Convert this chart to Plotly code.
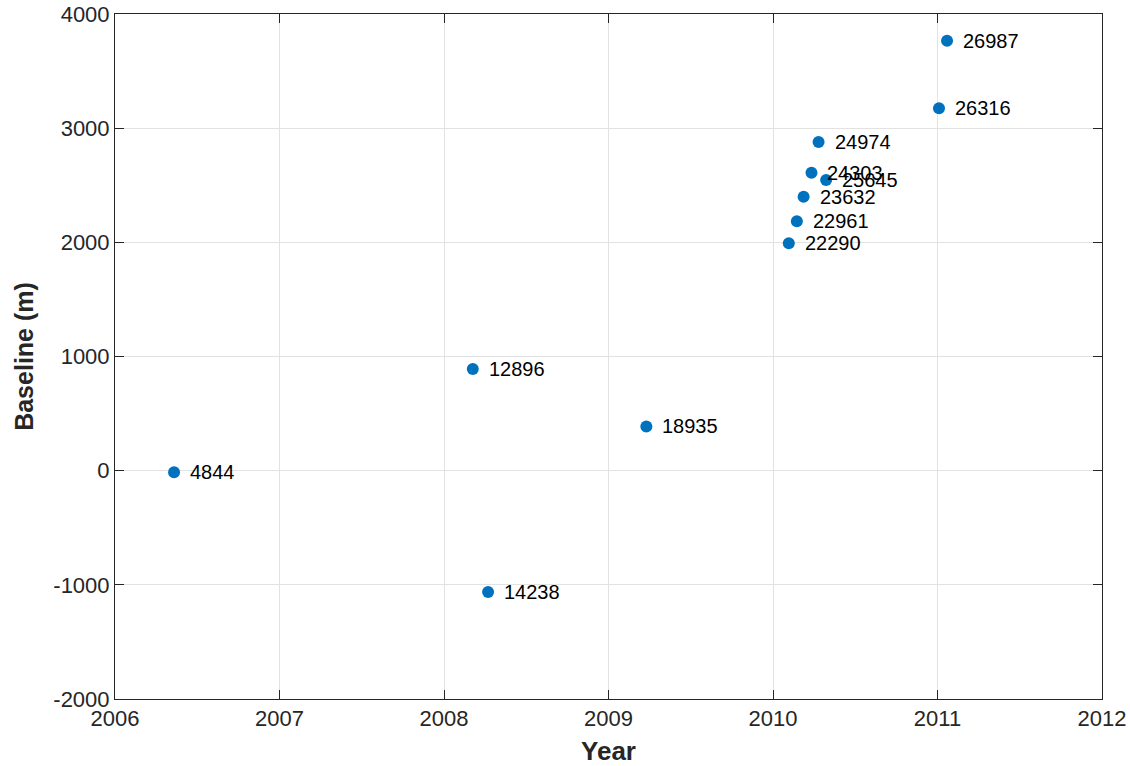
import plotly.graph_objects as go

# Data
orbits = ["4844", "12896", "14238", "18935", "22290", "22961", "23632",
          "24303", "24974", "25645", "26316", "26987"]
years = [2006.359, 2008.175, 2008.268, 2009.230, 2010.096, 2010.145, 2010.186,
         2010.234, 2010.277, 2010.323, 2011.009, 2011.058]
baselines = [-13, 891, -1063, 387, 1992, 2185, 2400, 2610, 2879, 2546, 3174, 3766]

x_ticks = [2006, 2007, 2008, 2009, 2010, 2011, 2012]
y_ticks = [-2000, -1000, 0, 1000, 2000, 3000, 4000]

FONT = "Liberation Sans, Arial, Helvetica, sans-serif"
AXC = "#262626"

fig = go.Figure()
fig.add_trace(go.Scatter(
    x=years, y=baselines, mode="markers",
    marker=dict(color="#0072BD", size=12, line=dict(width=0)),
    showlegend=False, hoverinfo="x+y",
))

annotations = [
    dict(x=xv, y=yv, text=t, showarrow=False, xanchor="left", yanchor="middle",
         xshift=14, font=dict(family=FONT, size=20, color="black"))
    for xv, yv, t in zip(years, baselines, orbits)
]

axis_common = dict(
    showline=True, linecolor=AXC, linewidth=1, mirror="ticks",
    ticks="inside", ticklen=9, tickwidth=1, tickcolor=AXC,
    showgrid=True, gridcolor="#e2e2e2", gridwidth=1,
    zeroline=False, automargin=False, ticklabeloverflow="allow",
    tickfont=dict(family=FONT, size=22, color=AXC),
)

fig.update_layout(
    width=1130, height=766,
    margin=dict(l=115, r=28, t=14, b=67),
    paper_bgcolor="white", plot_bgcolor="white",
    annotations=annotations,
    xaxis=dict(range=[2006, 2012], tickvals=x_ticks,
               ticktext=[str(v) for v in x_ticks],
               title=dict(text="<b>Year</b>", standoff=13,
                          font=dict(family=FONT, size=26, color=AXC)),
               **axis_common),
    yaxis=dict(range=[-2000, 4000], tickvals=y_ticks,
               ticktext=[str(v) for v in y_ticks],
               title=dict(text="<b>Baseline (m)</b>", standoff=12,
                          font=dict(family=FONT, size=25, color=AXC)),
               **axis_common),
)

fig.write_html(
    "out.html",
    config={"displayModeBar": False},
    post_script="document.body.style.margin='0';document.body.style.overflow='hidden';",
)
